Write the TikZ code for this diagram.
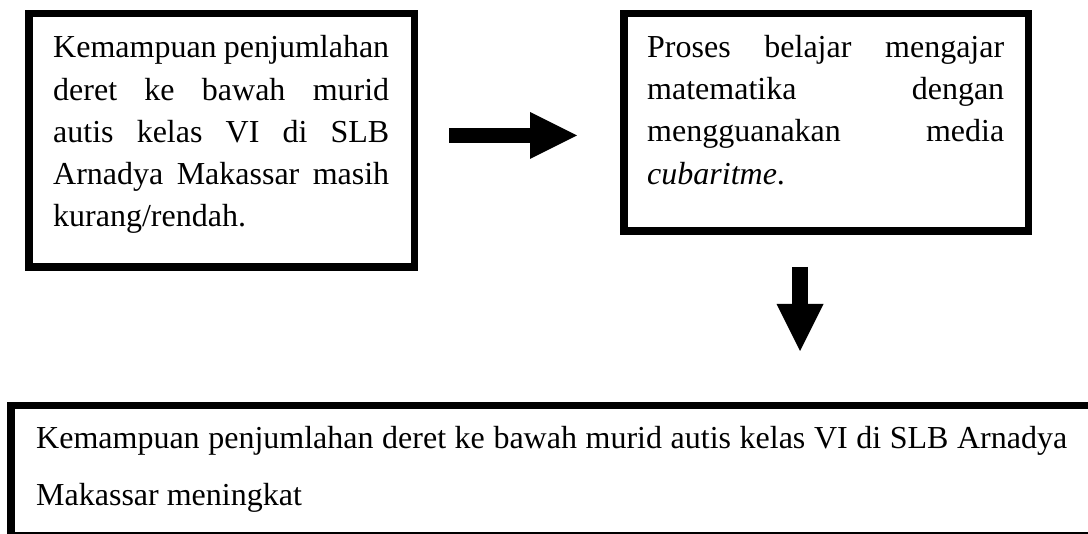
\documentclass[tikz,border=0pt]{standalone}
\usepackage{fontspec}
\setmainfont{Liberation Serif}
\usetikzlibrary{arrows.meta}
\setlength{\parindent}{0pt}
\newcommand{\jline}[2]{\makebox[#1][s]{\spaceskip=0pt\relax\xspaceskip=0pt\relax #2}}
\newcommand{\normsp}{\spaceskip=0pt\relax\xspaceskip=0pt\relax}
\begin{document}
\begin{tikzpicture}[x=1pt,y=-1pt,
  frame/.style={draw=black, line width=7.5pt, inner sep=0pt},
  txt/.style={inner sep=0pt, anchor=north west, align=left},
  fat/.style={line width=15pt, -{Triangle[length=47pt,width=47pt,line width=0pt]}}]
\useasboundingbox (0,0) rectangle (1088,534);
\clip (0,0) rectangle (1088,534);
% boxes
\node[frame, minimum width=385.5pt, minimum height=253.5pt] (b1) at (221.5,140.5) {};
\node[frame, minimum width=404.5pt, minimum height=217.5pt] (b2) at (826,122.5) {};
\node[frame, minimum width=1090pt, minimum height=130.5pt] (b3) at (555.75,471) {};
% texts
\node[txt, text width=336pt, font=\fontsize{32}{42.3}\selectfont] (t1) at (53,27.9)
 {\normsp\strut\jline{336pt}{Kemampuan penjumlahan}\\
  \jline{336pt}{deret ke bawah murid}\\
  \jline{336pt}{autis kelas VI di SLB}\\
  \jline{336pt}{Arnadya Makassar masih}\\
  kurang/rendah.};
\node[txt, text width=357pt, font=\fontsize{32}{42.3}\selectfont] (t2) at (647,27.4)
 {\normsp\strut\jline{357pt}{Proses belajar mengajar}\\
  \jline{357pt}{matematika dengan}\\
  \jline{357pt}{mengguanakan media}\\
  \textit{cubaritme}.};
\node[txt, text width=1040pt, font=\fontsize{32}{57}\selectfont] (t3) at (36,408.1)
 {\normsp\strut\jline{1031pt}{Kemampuan penjumlahan deret ke bawah murid autis kelas VI di SLB Arnadya}\\
  Makassar meningkat};
% arrows
\coordinate (r1) at (449,135.5);
\coordinate (r2) at (577,135.5);
\draw[fat] (r1) -- (r2);
\coordinate (d1) at (800,267);
\coordinate (d2) at (800,351);
\draw[fat, line width=16pt] (d1) -- (d2);
\end{tikzpicture}
\end{document}
